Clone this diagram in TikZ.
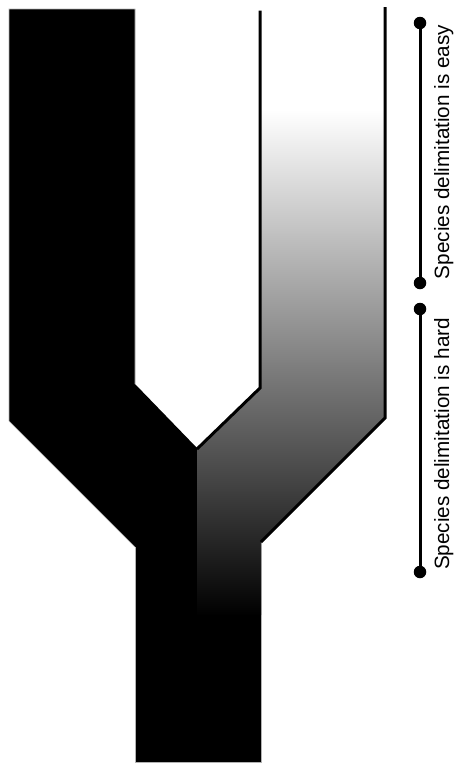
\documentclass[tikz,border=0pt]{standalone}
\usepackage{fontspec}
\setmainfont{Liberation Sans}
\begin{document}
\begin{tikzpicture}[x=1pt,y=-1pt,
  outline/.style={line width=3pt, line join=miter},
  bar/.style={line width=3pt},
  dot/.style={circle, fill=black, inner sep=0pt, minimum size=12.5pt},
  label/.style={rotate=90, anchor=base, inner sep=0pt, font=\fontsize{20.7}{24}\selectfont}]
\useasboundingbox (0,0) rectangle (454,763);
% black left branch + whole trunk
\fill[black]
  (9,9) -- (135,9) -- (135,384) -- (197,448) -- (261,448)
  -- (261,762) -- (135,762) -- (135,547) -- (9,421) -- cycle;
% faint grey rim on the outer edges
\draw[black!30, line width=0.6pt]
  (135,547) -- (9,421) -- (9,9) -- (135,9) -- (135,384);
\draw[black!30, line width=0.6pt] (135,547) -- (135,762) -- (261,762) -- (261,542);
% gradient right branch
\begin{scope}
  \clip (260,10) -- (385,7) -- (385,418) -- (261,542) -- (261,615)
        -- (197,615) -- (197,448) -- (260,388) -- cycle;
  \shade[top color=white, bottom color=black] (190,110) rectangle (390,616);
\end{scope}
% outlines of right branch
\draw[outline] (260,10.5) -- (260,388) -- (197,449);
\draw[outline] (385,7) -- (385,418) -- (261,542);
% bars
\node[dot] (e1) at (420,23) {};
\node[dot] (e2) at (420,283) {};
\node[dot] (h1) at (420,309) {};
\node[dot] (h2) at (420,572) {};
\draw[bar] (e1.center) -- (e2.center);
\draw[bar] (h1.center) -- (h2.center);
\node[label] (easy) at (449,152) {Species delimitation is easy};
\node[label] (hard) at (449,444) {Species delimitation is hard};
\end{tikzpicture}
\end{document}
